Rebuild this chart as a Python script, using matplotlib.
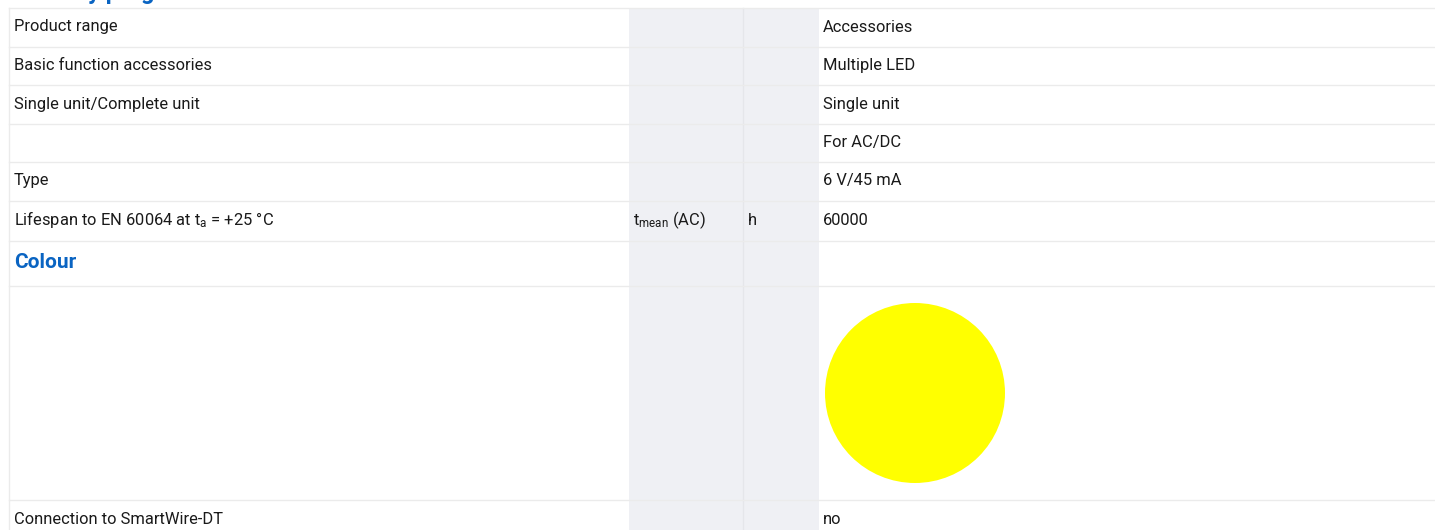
import matplotlib
matplotlib.use("Agg")
import matplotlib.pyplot as plt
from matplotlib.patches import Rectangle, Circle
from matplotlib import font_manager

# ---- data ----
title = "Delivery program"
labels = ["Product range", "Basic function accessories", "Single unit/Complete unit", "",
          "Type", r"Lifespan to EN 60064 at $\mathregular{t_a}$ = +25 °C", "Colour", "",
          "Connection to SmartWire-DT"]
symbols = ["", "", "", "", "", r"$\mathregular{t_{mean}}$ (AC)", "", "", ""]
units = ["", "", "", "", "", "h", "", "", ""]
values = ["Accessories", "Multiple LED", "Single unit", "For AC/DC", "6 V/45 mA", "60000", "", "", "no"]
heading_rows = [6]
swatch_rows = {7: "#ffff00"}

# ---- layout (pixels) ----
W, H = 1435, 530
row_edges = [8, 47, 85, 124, 162, 201, 241, 286, 500, 539]
x_left, x_grey0, x_grey1, x_grey_mid, x_right = 9, 629, 819, 743, 1435
text_x = [14, 633, 748, 823]

avail = {f.name for f in font_manager.fontManager.ttflist}
fam = "Liberation Sans Narrow" if "Liberation Sans Narrow" in avail else "Roboto"
plt.rcParams['font.family'] = [fam, 'DejaVu Sans']
plt.rcParams['mathtext.fontset'] = 'custom'
plt.rcParams['mathtext.rm'] = fam
plt.rcParams['mathtext.it'] = fam

fig = plt.figure(figsize=(W / 100, H / 100), dpi=100)
ax = fig.add_axes([0, 0, 1, 1])
ax.set_xlim(0, W)
ax.set_ylim(H, 0)
ax.axis('off')

line_c = "#ebebeb"
grey_c = "#eff0f4"
blue = "#0a64c2"
fs = 11.9

ax.add_patch(Rectangle((x_grey0, row_edges[0]), x_grey1 - x_grey0, H, color=grey_c, lw=0, zorder=0))
ax.plot([x_grey_mid, x_grey_mid], [row_edges[0], H], color="#e5e6ea", lw=1, zorder=1)
ax.plot([x_left, x_left], [row_edges[0], H], color=line_c, lw=1, zorder=1)
for y in row_edges[:-1]:
    ax.plot([x_left, x_right], [y, y], color=line_c, lw=1, zorder=1)

ax.text(14, -1.5, title, color=blue, fontsize=17, fontweight='bold', va='baseline', clip_on=False)

for i in range(len(labels)):
    top, bot = row_edges[i], row_edges[i + 1]
    yb = (top + bot) / 2 + 4
    if i in heading_rows:
        ax.text(text_x[0], (top + bot) / 2 + 5, labels[i], color=blue, fontsize=15,
                fontweight='bold', va='baseline')
    else:
        ax.text(text_x[0], yb, labels[i], fontsize=fs, va='baseline', color='#1a1a1a')
    ax.text(text_x[1], yb, symbols[i], fontsize=fs, va='baseline', color='#1a1a1a')
    ax.text(text_x[2], yb, units[i], fontsize=fs, va='baseline', color='#1a1a1a')
    ax.text(text_x[3], yb, values[i], fontsize=fs, va='baseline', color='#1a1a1a')
    if i in swatch_rows:
        r = 90
        ax.add_patch(Circle((text_x[3] + 2 + r, (top + bot) / 2), r, color=swatch_rows[i], lw=0, zorder=2))

fig.savefig("out.png", dpi=100)
